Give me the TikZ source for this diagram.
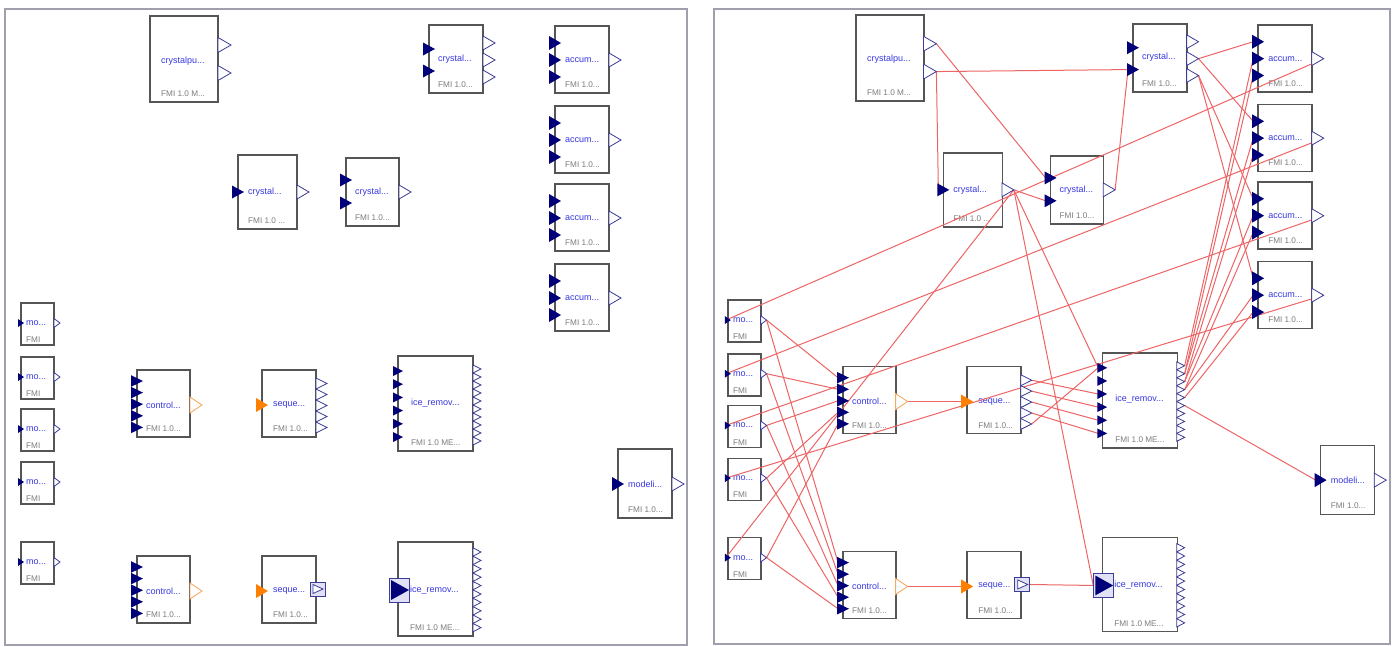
\documentclass[tikz,border=0pt]{standalone}
\usepackage{fontspec}
\setmainfont{Liberation Sans}
\pgfdeclarelayer{bg}
\pgfdeclarelayer{conn}
\pgfsetlayers{bg,conn,main}

\definecolor{boxgray}{RGB}{85,85,85}
\definecolor{framegray}{RGB}{160,160,172}
\definecolor{portnavy}{RGB}{0,0,120}
\definecolor{portline}{RGB}{60,60,150}
\definecolor{lblblue}{RGB}{55,55,225}
\definecolor{subgray}{RGB}{125,125,125}
\definecolor{wirered}{RGB}{238,100,100}
\definecolor{ordark}{RGB}{255,128,0}
\definecolor{orlight}{RGB}{245,170,100}
\definecolor{sqfill}{RGB}{225,225,245}

\tikzset{
  fmibox/.style={draw=boxgray, line width=1.4pt, fill=white, inner sep=0pt, outer sep=0pt},
  lbl/.style={anchor=west, text=lblblue, font=\fontsize{9}{10}\selectfont, inner sep=0pt},
  sublbl/.style={anchor=west, text=subgray, font=\fontsize{8.2}{9}\selectfont, inner sep=0pt},
  inport/.style={fill=portnavy},
  seqin/.style={fill=ordark},
  outport/.style={draw=portline, line width=0.8pt, fill=white},
  ctlout/.style={draw=orlight, line width=0.9pt, fill=white},
  sqport/.style={draw=portline, line width=0.9pt, fill=sqfill},
  link/.style={draw=wirered, line width=1pt},
  frame/.style={draw=framegray, line width=1.5pt, fill=white},
}

\def\subgap{8}

% FMU block: [label inset]{name}{x1}{y1}{x2}{y2}{label y}{label}{type text}
\newcommand\fmiblk[9][10]{%
  \begin{pgfonlayer}{bg}
    \node[fmibox, anchor=north west, minimum width=#5-#3, minimum height=#6-#4] (#2) at (#3,#4) {};
    \node[lbl] (#2-lbl) at (#3+#1,#7) {#8};
    \node[sublbl] (#2-sub) at (#3+#1,#6-\subgap) {#9};
  \end{pgfonlayer}}

% input port: [style]{name}{edge x}{y}{width}{height}
\newcommand\inp[6][inport]{%
  \fill[#1] (#3-#5/2,#4-#6/2) -- (#3+#5/2,#4) -- (#3-#5/2,#4+#6/2) -- cycle;
  \coordinate (#2) at (#3-#5/2+1,#4);}

% output port: [style]{name}{edge x}{y}{width}{height}
\newcommand\outp[6][outport]{%
  \filldraw[#1] (#3,#4-#6/2) -- (#3+#5,#4) -- (#3,#4+#6/2) -- cycle;
  \coordinate (#2) at (#3+#5,#4);}

% boxed output port
\newcommand\sqout[5]{%
  \filldraw[sqport] (#2,#3) rectangle (#4,#5);
  \filldraw[outport] (#2+3,#3+2.5) -- (#4-2,{(#3+#5)/2}) -- (#2+3,#5-2.5) -- cycle;
  \coordinate (#1) at (#4,{(#3+#5)/2});}

% boxed input port
\newcommand\sqin[5]{%
  \filldraw[sqport] (#2,#3) rectangle (#4,#5);
  \fill[inport] (#2+2,#3+2) -- (#4,{(#3+#5)/2}) -- (#2+2,#5-2) -- cycle;
  \coordinate (#1) at (#2,{(#3+#5)/2});}

% one complete co-simulation model
\newcommand\fmipanel[1]{%
  \def\subgap{8}%
  \fmiblk[11]{#1-cpu}{150}{16}{218}{102}{61}{crystalpu...}{FMI 1.0 M...}
  \outp{#1-cpu-o1}{218}{45}{13}{15}
  \outp{#1-cpu-o2}{218}{73}{13}{15}
  \fmiblk{#1-cry1}{238}{155}{297}{229}{192}{crystal...}{FMI 1.0 ...}
  \inp{#1-cry1-i1}{238}{192}{12}{13}
  \outp{#1-cry1-o1}{297}{192}{12}{14}
  \fmiblk[9]{#1-cry2}{346}{158}{399}{226}{192}{crystal...}{FMI 1.0...}
  \inp{#1-cry2-i1}{346}{180}{12}{13}
  \inp{#1-cry2-i2}{346}{203}{12}{13}
  \outp{#1-cry2-o1}{399}{192}{12}{14}
  \fmiblk[9]{#1-cry3}{429}{25}{483}{93}{59}{crystal...}{FMI 1.0...}
  \inp{#1-cry3-i1}{429}{49}{12}{13}
  \inp{#1-cry3-i2}{429}{71}{12}{13}
  \outp{#1-cry3-o1}{483}{43}{12}{14}
  \outp{#1-cry3-o2}{483}{60}{12}{14}
  \outp{#1-cry3-o3}{483}{77}{12}{14}
  \foreach \n/\t in {1/26,2/106,3/184,4/264}{
    \fmiblk{#1-acc\n}{555}{\t}{609}{\t+67}{\t+34}{accum...}{FMI 1.0...}
    \inp{#1-acc\n-i1}{555}{\t+17}{12}{14}
    \inp{#1-acc\n-i2}{555}{\t+34}{12}{14}
    \inp{#1-acc\n-i3}{555}{\t+51}{12}{14}
    \outp{#1-acc\n-o1}{609}{\t+34}{12}{14}
  }
  \foreach \n/\t in {1/303,2/357,3/409,4/462,5/542}{
    \def\subgap{5}%
    \fmiblk[5]{#1-mo\n}{21}{\t}{54}{\t+42}{\t+20}{mo...}{FMI}
    \inp{#1-mo\n-i1}{21}{\t+20}{6}{8}
    \outp{#1-mo\n-o1}{54}{\t+20}{6}{9}
  }
  \foreach \n/\t in {1/370,2/556}{
    \fmiblk[9]{#1-ctl\n}{137}{\t}{190}{\t+67}{\t+35}{control...}{FMI 1.0...}
    \foreach \k in {1,...,5}{\inp{#1-ctl\n-i\k}{137}{\t-0.6+11.6*\k}{12}{11.6}}
    \outp[ctlout]{#1-ctl\n-o1}{190}{\t+35}{12}{16}
    \fmiblk[11]{#1-seq\n}{262}{\t}{316}{\t+67}{\t+35}{seque...}{FMI 1.0...}
    \inp[seqin]{#1-seq\n-i1}{262}{\t+35}{12}{14}
  }
  \foreach \k in {1,...,5}{\outp{#1-seq1-o\k}{316}{372.5+11*\k}{11}{11}}
  \sqout{#1-seq2-o1}{310}{582}{325}{596}
  \fmiblk[13]{#1-ice1}{398}{356}{473}{451}{403}{ice\_remov...}{FMI 1.0 ME...}
  \foreach \k in {1,...,6}{\inp{#1-ice1-i\k}{398}{357.8+13.2*\k}{10}{10}}
  \foreach \k in {1,...,10}{\outp{#1-ice1-o\k}{473}{361+8*\k}{8}{8}}
  \fmiblk[12]{#1-ice2}{398}{542}{473}{636}{590}{ice\_remov...}{FMI 1.0 ME...}
  \sqin{#1-ice2-i1}{389}{578}{409}{602}
  \foreach \k in {1,...,10}{\outp{#1-ice2-o\k}{473}{543.6+8.4*\k}{8}{8.4}}
  \fmiblk{#1-mod}{618}{449}{672}{518}{484}{modeli...}{FMI 1.0...}
  \inp{#1-mod-i1}{618}{484}{12}{14}
  \outp{#1-mod-o1}{672}{484}{12}{14}
}

\begin{document}
\begin{tikzpicture}[x=1pt,y=-1pt]
  \useasboundingbox (0,0) rectangle (1397,646);
  \begin{pgfonlayer}{bg}
    \draw[frame] (5,9) rectangle (687,645);
    \draw[frame] (714,9) rectangle (1390,644);
  \end{pgfonlayer}

  % unconnected model
  \fmipanel{L}

  % connected model
  \begin{scope}[shift={(707,-1)}, xscale=0.993, yscale=0.994]
    \fmipanel{R}
  \end{scope}

  \begin{pgfonlayer}{conn}
    % crystal chain
    \draw[link] (R-cpu-o1) -- (R-cry2-i1);
    \draw[link] (R-cpu-o2) -- (R-cry3-i2);
    \draw[link] (R-cpu-o2) -- (R-cry1-i1);
    \draw[link] (R-cry1-o1) -- (R-cry2-i2);
    \draw[link] (R-cry2-o1) -- (R-cry3-i2);
    \draw[link] (R-cry3-o2) -- (R-acc1-i1);
    \draw[link] (R-cry3-o2) -- (R-acc2-i1);
    \draw[link] (R-cry3-o3) -- (R-acc3-i1);
    \draw[link] (R-cry3-o3) -- (R-acc4-i1);
    \draw[link] (R-cry1-o1) -- (R-mo5-i1);
    \draw[link] (R-cry1-o1) -- (R-ice1-i1);
    \draw[link] (R-cry1-o1) -- (R-ice2-i1);
    % accumulators feed the measurement blocks
    \foreach \n in {1,...,4}{\draw[link] (R-acc\n-o1) -- (R-mo\n-i1);}
    % measurements to both controllers
    \foreach \n in {1,...,5}{
      \draw[link] (R-mo\n-o1) -- (R-ctl1-i\n);
      \draw[link] (R-mo\n-o1) -- (R-ctl2-i\n);
    }
    % controllers to sequencers
    \draw[link] (R-ctl1-o1) -- (R-seq1-i1);
    \draw[link] (R-ctl2-o1) -- (R-seq2-i1);
    \draw[link] (R-seq2-o1) -- (R-ice2-i1);
    \draw[link] (R-seq1-o1) -- (R-ice1-i3);
    \draw[link] (R-seq1-o2) -- (R-ice1-i4);
    \draw[link] (R-seq1-o3) -- (R-ice1-i5);
    \draw[link] (R-seq1-o4) -- (R-ice1-i6);
    \draw[link] (R-seq1-o5) -- (R-ice1-i1);
    % ice removal outputs back to accumulators
    \draw[link] (R-ice1-o1) -- (R-acc1-i2);
    \draw[link] (R-ice1-o2) -- (R-acc1-i3);
    \draw[link] (R-ice1-o2) -- (R-acc2-i2);
    \draw[link] (R-ice1-o3) -- (R-acc2-i3);
    \draw[link] (R-ice1-o3) -- (R-acc3-i2);
    \draw[link] (R-ice1-o4) -- (R-acc3-i3);
    \draw[link] (R-ice1-o4) -- (R-acc4-i2);
    \draw[link] (R-ice1-o5) -- (R-acc4-i3);
    \draw[link] (R-ice1-o6) -- (R-mod-i1);
  \end{pgfonlayer}
\end{tikzpicture}
\end{document}
